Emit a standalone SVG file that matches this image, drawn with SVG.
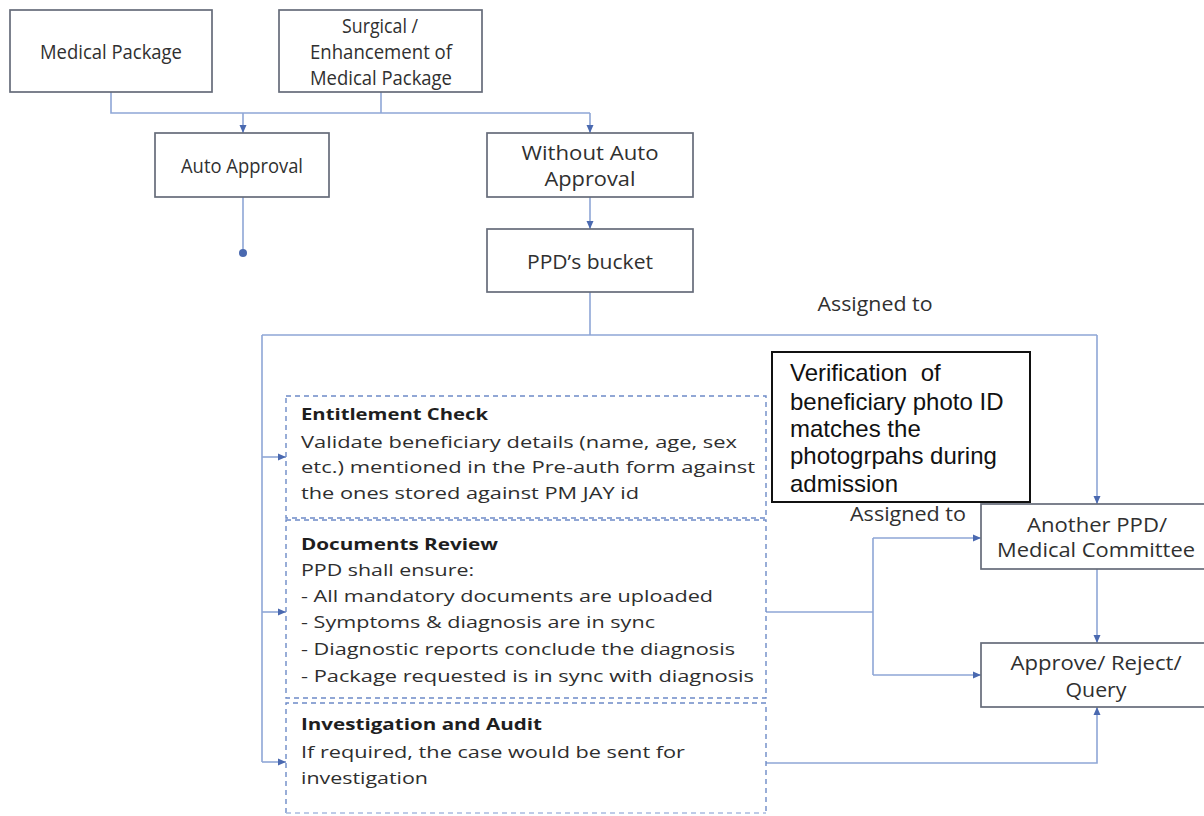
<svg xmlns="http://www.w3.org/2000/svg" width="1204" height="816" viewBox="0 0 1204 816">
  <style>
    .box { fill: #ffffff; stroke: #666c7a; stroke-width: 1.7; }
    .dash { fill: none; stroke: #6d8bc7; stroke-width: 1.4; stroke-dasharray: 5 4; }
    .faint { stroke: #a9bbe0; }
    .note { fill: #ffffff; stroke: #111111; stroke-width: 2; }
    .lbl { font-family: "Open Sans", "Liberation Sans", sans-serif; font-size: 20px; fill: #303030; text-anchor: middle; }
    .body { font-family: "Open Sans", "Liberation Sans", sans-serif; font-size: 16.5px; fill: #2e2e2e; }
    .head { font-family: "Open Sans", "Liberation Sans", sans-serif; font-size: 16.5px; font-weight: bold; fill: #1e1e1e; }
    .arial { font-family: "Liberation Sans", Arial, sans-serif; font-size: 24px; fill: #111111; }
    .wire { fill: none; stroke: #8ea6d6; stroke-width: 1.6; }
    .wire-a { fill: none; stroke: #8ea6d6; stroke-width: 1.6; marker-end: url(#tip); }
  </style>
  <defs>
    <marker id="tip" markerUnits="userSpaceOnUse" markerWidth="9" markerHeight="8" refX="8" refY="4" orient="auto">
      <path d="M0,0.5 L8,4 L0,7.5 z" fill="#4a69b0"/>
    </marker>
  </defs>

  <rect width="1204" height="816" fill="#ffffff"/>

  <!-- connectors -->
  <g id="connectors">
    <!-- package split -->
    <path class="wire" d="M111,92 V113 H590"/>
    <path class="wire" d="M381,92 V113"/>
    <path class="wire-a" d="M243,113 V133"/>
    <path class="wire-a" d="M590,113 V133"/>
    <!-- auto approval terminal -->
    <path class="wire" d="M243,197 V250"/>
    <circle cx="243" cy="253" r="4" fill="#4a69b0"/>
    <!-- into bucket -->
    <path class="wire-a" d="M590,197 V229"/>
    <!-- bucket fan-out -->
    <path class="wire" d="M590,292 V335"/>
    <path class="wire" d="M262,335 H1097"/>
    <path class="wire-a" d="M1097,335 V504"/>
    <path class="wire" d="M262,335 V762"/>
    <path class="wire-a" d="M262,457 H286"/>
    <path class="wire-a" d="M262,612 H286"/>
    <path class="wire-a" d="M262,762 H286"/>
    <!-- documents review outcomes -->
    <path class="wire" d="M766,612 H873"/>
    <path class="wire" d="M873,538 V675"/>
    <path class="wire-a" d="M873,538 H981"/>
    <path class="wire-a" d="M873,675 H981"/>
    <!-- committee to decision -->
    <path class="wire-a" d="M1097,569 V643"/>
    <!-- investigation to decision -->
    <path class="wire-a" d="M766,763 H1097 V707"/>
  </g>

  <!-- labels on connectors -->
  <g id="edge-labels">
    <text class="lbl" x="875" y="311" textLength="115" lengthAdjust="spacingAndGlyphs">Assigned to</text>
    <text class="lbl" x="908" y="521" textLength="116" lengthAdjust="spacingAndGlyphs">Assigned to</text>
  </g>

  <g id="medical-package">
    <rect class="box" x="10" y="10" width="202" height="82"/>
    <text class="lbl" x="111" y="59" textLength="142" lengthAdjust="spacingAndGlyphs">Medical Package</text>
  </g>

  <g id="surgical-package">
    <rect class="box" x="279" y="10" width="203" height="82"/>
    <text class="lbl" x="380" y="33" textLength="76" lengthAdjust="spacingAndGlyphs">Surgical /</text>
    <text class="lbl" x="381" y="59" textLength="142" lengthAdjust="spacingAndGlyphs">Enhancement of</text>
    <text class="lbl" x="381" y="85" textLength="142" lengthAdjust="spacingAndGlyphs">Medical Package</text>
  </g>

  <g id="auto-approval">
    <rect class="box" x="155" y="133" width="174" height="64"/>
    <text class="lbl" x="242" y="173" textLength="122" lengthAdjust="spacingAndGlyphs">Auto Approval</text>
  </g>

  <g id="without-auto-approval">
    <rect class="box" x="487" y="133" width="206" height="64"/>
    <text class="lbl" x="590" y="160" textLength="137" lengthAdjust="spacingAndGlyphs">Without Auto</text>
    <text class="lbl" x="590" y="186" textLength="91" lengthAdjust="spacingAndGlyphs">Approval</text>
  </g>

  <g id="ppd-bucket">
    <rect class="box" x="487" y="229" width="206" height="63"/>
    <text class="lbl" x="590" y="269" textLength="126" lengthAdjust="spacingAndGlyphs">PPD’s bucket</text>
  </g>

  <g id="entitlement-check">
    <rect class="dash" x="286" y="396" width="480" height="122"/>
    <text class="head" x="301" y="420" textLength="187" lengthAdjust="spacingAndGlyphs">Entitlement Check</text>
    <text class="body" x="301" y="448" textLength="436" lengthAdjust="spacingAndGlyphs">Validate beneficiary details (name, age, sex</text>
    <text class="body" x="301" y="473" textLength="454" lengthAdjust="spacingAndGlyphs">etc.) mentioned in the Pre-auth form against</text>
    <text class="body" x="301" y="499" textLength="338" lengthAdjust="spacingAndGlyphs">the ones stored against PM JAY id</text>
  </g>

  <g id="documents-review">
    <rect class="dash" x="286" y="520" width="480" height="178"/>
    <text class="head" x="301" y="550" textLength="197" lengthAdjust="spacingAndGlyphs">Documents Review</text>
    <text class="body" x="301" y="576" textLength="173" lengthAdjust="spacingAndGlyphs">PPD shall ensure:</text>
    <text class="body" x="301" y="602" textLength="412" lengthAdjust="spacingAndGlyphs">- All mandatory documents are uploaded</text>
    <text class="body" x="301" y="628" textLength="354" lengthAdjust="spacingAndGlyphs">- Symptoms &amp; diagnosis are in sync</text>
    <text class="body" x="301" y="655" textLength="434" lengthAdjust="spacingAndGlyphs">- Diagnostic reports conclude the diagnosis</text>
    <text class="body" x="301" y="682" textLength="453" lengthAdjust="spacingAndGlyphs">- Package requested is in sync with diagnosis</text>
  </g>

  <g id="investigation-audit">
    <path class="dash" d="M286,813 V703 H766 V813"/>
    <path class="dash faint" d="M286,813 H766"/>
    <text class="head" x="301" y="730" textLength="241" lengthAdjust="spacingAndGlyphs">Investigation and Audit</text>
    <text class="body" x="301" y="758" textLength="384" lengthAdjust="spacingAndGlyphs">If required, the case would be sent for</text>
    <text class="body" x="301" y="784" textLength="127" lengthAdjust="spacingAndGlyphs">investigation</text>
  </g>

  <g id="photo-verification">
    <rect class="note" x="772" y="352" width="258" height="150"/>
    <text class="arial" x="790" y="381" xml:space="preserve">Verification  of</text>
    <text class="arial" x="790" y="410">beneficiary photo ID</text>
    <text class="arial" x="790" y="437">matches the</text>
    <text class="arial" x="790" y="464">photogrpahs during</text>
    <text class="arial" x="790" y="492">admission</text>
  </g>

  <g id="another-ppd">
    <rect class="box" x="981" y="504" width="233" height="65"/>
    <text class="lbl" x="1097" y="532" textLength="140" lengthAdjust="spacingAndGlyphs">Another PPD/</text>
    <text class="lbl" x="1096" y="557" textLength="198" lengthAdjust="spacingAndGlyphs">Medical Committee</text>
  </g>

  <g id="decision">
    <rect class="box" x="981" y="643" width="233" height="64"/>
    <text class="lbl" x="1096" y="670" textLength="171" lengthAdjust="spacingAndGlyphs">Approve/ Reject/</text>
    <text class="lbl" x="1096" y="697" textLength="61" lengthAdjust="spacingAndGlyphs">Query</text>
  </g>
</svg>
